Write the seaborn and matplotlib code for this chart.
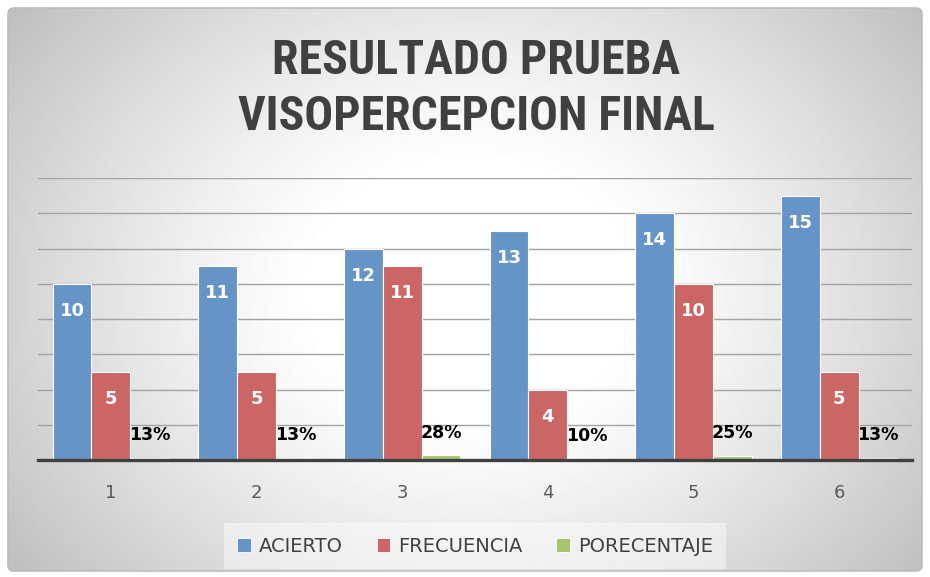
import numpy as np
import pandas as pd
import matplotlib
matplotlib.use("Agg")
import matplotlib.pyplot as plt
import seaborn as sns
from matplotlib.patches import FancyBboxPatch

# data
pruebas = ["1", "2", "3", "4", "5", "6"]
acierto = [10, 11, 12, 13, 14, 15]
frecuencia = [5, 5, 11, 4, 10, 5]
porcentaje = [0.13, 0.13, 0.28, 0.10, 0.25, 0.13]
series = ["ACIERTO", "FRECUENCIA", "PORECENTAJE"]
colores = ["#6794C7", "#CB6664", "#A8C46E"]

df = pd.DataFrame({
    "prueba": pruebas * 3,
    "valor": acierto + frecuencia + porcentaje,
    "serie": [s for s in series for _ in pruebas],
})

sns.set_style("white")
plt.rcParams["font.family"] = ["DejaVu Sans"]

W, H = 930, 577
fig = plt.figure(figsize=(W / 100, H / 100), dpi=100)

# background: rounded frame with a radial grey gradient
bg = fig.add_axes([0, 0, 1, 1], zorder=-5)
bg.set_xlim(0, W)
bg.set_ylim(H, 0)
bg.axis("off")
xx, yy = np.meshgrid(np.arange(W), np.arange(H))
r = np.sqrt(((xx - 470) / 520) ** 2 + ((yy - 290) / 420) ** 2)
v = 1 - 0.25 * np.clip((r - 0.3) / 0.8, 0, 1) ** 1.2
frame = FancyBboxPatch((8, 8), W - 16, H - 14, boxstyle="round,pad=0,rounding_size=6",
                       facecolor="none", edgecolor="#BDBDBD", linewidth=1.2)
bg.add_patch(frame)
img = bg.imshow(v, cmap="gray", vmin=0, vmax=1, extent=(0, W, H, 0), aspect="auto")
img.set_clip_path(frame)

# main chart
ax = fig.add_axes([38 / W, 1 - 460 / H, (912 - 38) / W, (460 - 178) / H])
ax.patch.set_alpha(0)
sns.barplot(data=df, x="prueba", y="valor", hue="serie", hue_order=series,
            palette=colores, saturation=1, width=0.8, edgecolor="white",
            linewidth=0.8, ax=ax, zorder=3)

ax.set_ylim(0, 16)
ax.set_yticks(np.arange(0, 17, 2))
ax.yaxis.grid(True, color="#A3A3A3", linewidth=1)
ax.set_axisbelow(True)
ax.set_yticklabels([])
ax.set_xlabel("")
ax.set_ylabel("")
for s in ["top", "left", "right"]:
    ax.spines[s].set_visible(False)
ax.spines["bottom"].set_color("#404040")
ax.spines["bottom"].set_linewidth(2.4)
ax.spines["bottom"].set_zorder(4)
ax.tick_params(axis="x", length=0, pad=17, labelsize=13, labelcolor="#595959")
ax.tick_params(axis="y", length=0)

# data labels
for cont, vals in zip(ax.containers[:2], [acierto, frecuencia]):
    for bar, val in zip(cont, vals):
        ax.annotate(str(val), (bar.get_x() + bar.get_width() / 2, bar.get_height()),
                    xytext=(0, -19.5), textcoords="offset points", ha="center", va="center",
                    color="white", fontsize=13, fontweight="bold", zorder=5)
for bar, val in zip(ax.containers[2], porcentaje):
    ax.annotate(f"{val:.0%}", (bar.get_x() + bar.get_width() / 2, bar.get_height()),
                xytext=(0, 16), textcoords="offset points", ha="center", va="center",
                color="black", fontsize=12.5, fontweight="bold", zorder=5)

# legend
ax.get_legend().remove()
handles = [plt.Rectangle((0, 0), 1, 1, facecolor=c, edgecolor="white", linewidth=0.6) for c in colores]
leg = fig.legend(handles, series, loc="center", bbox_to_anchor=(475 / W, 1 - 546 / H),
                 ncol=3, frameon=True, fontsize=14, handlelength=0.7, handleheight=0.7,
                 handletextpad=0.4, columnspacing=1.75, borderpad=0.7)
leg.get_frame().set_facecolor("white")
leg.get_frame().set_alpha(0.45)
leg.get_frame().set_edgecolor("none")
leg.get_frame().set_boxstyle("square", pad=0)
for t in leg.get_texts():
    t.set_color("#404040")

# title
fig.text(476 / W, 1 - 89 / H, "RESULTADO PRUEBA\nVISOPERCEPCION FINAL", ha="center", va="center",
         fontsize=34.5, fontweight="bold", color="#404040", linespacing=1.25,
         family=["Roboto Condensed", "Roboto", "DejaVu Sans"])

fig.savefig("out.png", dpi=100)
